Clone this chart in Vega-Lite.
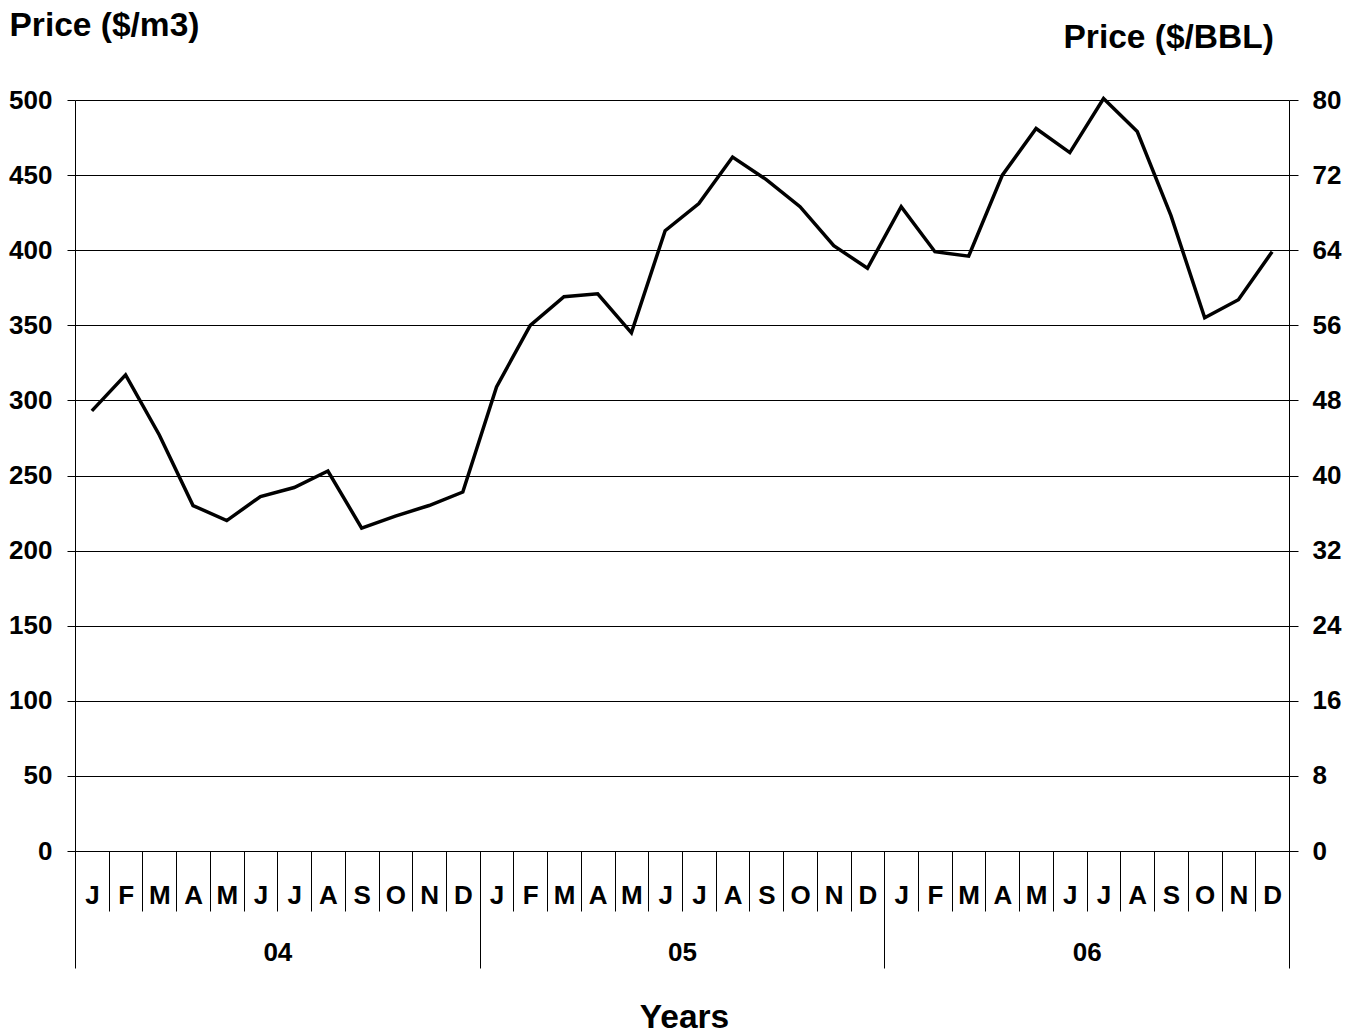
{
  "$schema": "https://vega.github.io/schema/vega-lite/v6.json",
  "width": 1214,
  "height": 751,
  "autosize": {"type": "none"},
  "padding": {"left": 75, "top": 100, "right": 68, "bottom": 182},
  "background": "white",
  "config": {
    "view": {"stroke": null},
    "font": "Liberation Sans",
    "axis": {
      "labelFont": "Liberation Sans",
      "titleFont": "Liberation Sans",
      "labelFontWeight": "bold",
      "titleFontWeight": "bold",
      "labelFontSize": 26,
      "titleFontSize": 33.5,
      "labelColor": "black",
      "titleColor": "black",
      "domainColor": "black",
      "tickColor": "black",
      "gridColor": "black",
      "gridOpacity": 1,
      "domainWidth": 1,
      "tickWidth": 1,
      "gridWidth": 1,
      "labelFlush": false,
      "labelOverlap": false
    }
  },
  "data": {
    "values": [
      {"m": "2004-01", "year": "04", "price": 293},
      {"m": "2004-02", "year": "04", "price": 317},
      {"m": "2004-03", "year": "04", "price": 277},
      {"m": "2004-04", "year": "04", "price": 230},
      {"m": "2004-05", "year": "04", "price": 220},
      {"m": "2004-06", "year": "04", "price": 236},
      {"m": "2004-07", "year": "04", "price": 242},
      {"m": "2004-08", "year": "04", "price": 253},
      {"m": "2004-09", "year": "04", "price": 215},
      {"m": "2004-10", "year": "04", "price": 223},
      {"m": "2004-11", "year": "04", "price": 230},
      {"m": "2004-12", "year": "04", "price": 239},
      {"m": "2005-01", "year": "05", "price": 309},
      {"m": "2005-02", "year": "05", "price": 350},
      {"m": "2005-03", "year": "05", "price": 369},
      {"m": "2005-04", "year": "05", "price": 371},
      {"m": "2005-05", "year": "05", "price": 345},
      {"m": "2005-06", "year": "05", "price": 413},
      {"m": "2005-07", "year": "05", "price": 431},
      {"m": "2005-08", "year": "05", "price": 462},
      {"m": "2005-09", "year": "05", "price": 447},
      {"m": "2005-10", "year": "05", "price": 429},
      {"m": "2005-11", "year": "05", "price": 403},
      {"m": "2005-12", "year": "05", "price": 388},
      {"m": "2006-01", "year": "06", "price": 429},
      {"m": "2006-02", "year": "06", "price": 399},
      {"m": "2006-03", "year": "06", "price": 396},
      {"m": "2006-04", "year": "06", "price": 450},
      {"m": "2006-05", "year": "06", "price": 481},
      {"m": "2006-06", "year": "06", "price": 465},
      {"m": "2006-07", "year": "06", "price": 501},
      {"m": "2006-08", "year": "06", "price": 479},
      {"m": "2006-09", "year": "06", "price": 423},
      {"m": "2006-10", "year": "06", "price": 355},
      {"m": "2006-11", "year": "06", "price": 367},
      {"m": "2006-12", "year": "06", "price": 399}
    ]
  },
  "layer": [
    {
      "mark": {"type": "line", "color": "black", "strokeWidth": 3.5},
      "encoding": {
        "x": {
          "field": "m",
          "type": "ordinal",
          "scale": {"type": "band", "paddingInner": 0, "paddingOuter": 0},
          "axis": {
            "orient": "bottom",
            "title": null,
            "tickBand": "extent",
            "tickSize": 60,
            "labelPadding": -8,
            "labelBaseline": "alphabetic",
            "labelAngle": 0,
            "labelExpr": "isString(datum.value) && length(datum.value) > 6 ? ['J','F','M','A','M','J','J','A','S','O','N','D'][toNumber(substring(datum.value,5,7))-1] : ''",
            "domain": true,
            "grid": false
          }
        },
        "y": {
          "field": "price",
          "type": "quantitative",
          "scale": {"domain": [0, 500], "nice": false},
          "axis": {
            "orient": "left",
            "values": [0, 50, 100, 150, 200, 250, 300, 350, 400, 450, 500],
            "tickSize": 8,
            "labelPadding": 15,
            "grid": true,
            "title": "Price ($/m3)",
            "titleAngle": 0,
            "titleAlign": "left",
            "titleBaseline": "alphabetic",
            "titleX": -66,
            "titleY": -65
          }
        }
      }
    },
    {
      "mark": {"type": "point", "opacity": 0},
      "encoding": {
        "x": {
          "field": "year",
          "type": "nominal",
          "scale": {"type": "band", "paddingInner": 0, "paddingOuter": 0},
          "axis": {
            "orient": "bottom",
            "title": "Years",
            "tickBand": "extent",
            "tickSize": 117,
            "labelPadding": -8,
            "labelBaseline": "alphabetic",
            "labelAngle": 0,
            "domain": false,
            "grid": false,
            "titleX": 609,
            "titleY": 176,
            "titleAlign": "center",
            "titleBaseline": "alphabetic"
          }
        },
        "y": {
          "field": "price",
          "type": "quantitative",
          "scale": {"domain": [0, 500], "nice": false},
          "axis": {
            "orient": "right",
            "values": [0, 50, 100, 150, 200, 250, 300, 350, 400, 450, 500],
            "labelExpr": "format(datum.value*0.16,'.0f')",
            "tickSize": 9,
            "labelPadding": 14,
            "grid": false,
            "title": "Price ($/BBL)",
            "titleAngle": 0,
            "titleAlign": "left",
            "titleBaseline": "alphabetic",
            "titleX": -226,
            "titleY": -53
          }
        }
      }
    }
  ],
  "resolve": {
    "scale": {"x": "independent", "y": "independent"},
    "axis": {"x": "independent", "y": "independent"}
  }
}
